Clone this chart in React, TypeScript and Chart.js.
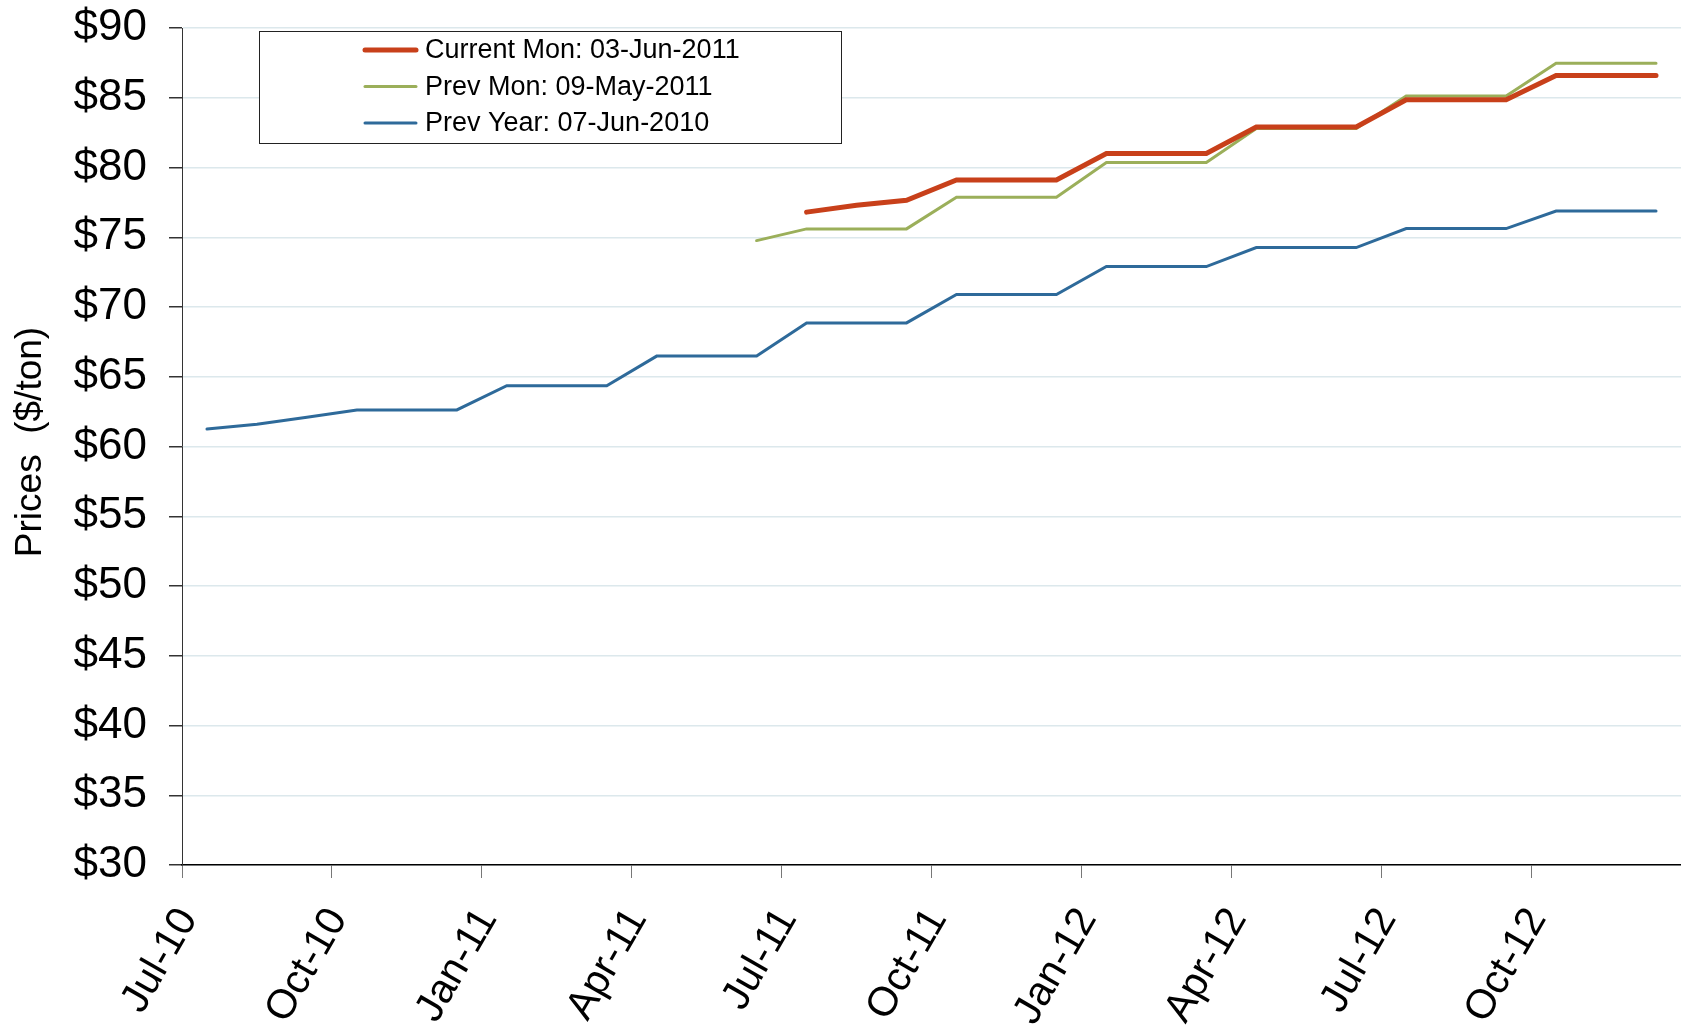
import React, { useEffect, useRef } from 'react';
import { Chart, registerables } from 'chart.js';
Chart.register(...registerables);

const months = [
  'Jul-10', 'Aug-10', 'Sep-10', 'Oct-10', 'Nov-10', 'Dec-10',
  'Jan-11', 'Feb-11', 'Mar-11', 'Apr-11', 'May-11', 'Jun-11',
  'Jul-11', 'Aug-11', 'Sep-11', 'Oct-11', 'Nov-11', 'Dec-11',
  'Jan-12', 'Feb-12', 'Mar-12', 'Apr-12', 'May-12', 'Jun-12',
  'Jul-12', 'Aug-12', 'Sep-12', 'Oct-12', 'Nov-12', 'Dec-12',
];
const tickLabels = ['Jul-10', 'Oct-10', 'Jan-11', 'Apr-11', 'Jul-11', 'Oct-11', 'Jan-12', 'Apr-12', 'Jul-12', 'Oct-12'];

const currentMon: (number | null)[] = [
  null, null, null, null, null, null, null, null, null, null, null, null,
  76.8, 77.3, 77.65, 79.1, 79.1, 79.1, 81.0, 81.0, 81.0, 82.9, 82.9, 82.9,
  84.85, 84.85, 84.85, 86.6, 86.6, 86.6,
];
const prevMon: (number | null)[] = [
  null, null, null, null, null, null, null, null, null, null, null, 74.76,
  75.6, 75.6, 75.6, 77.86, 77.86, 77.86, 80.36, 80.36, 80.36, 82.8, 82.8, 82.8,
  85.12, 85.12, 85.12, 87.48, 87.48, 87.48,
];
const prevYear: (number | null)[] = [
  61.25, 61.6, 62.1, 62.62, 62.62, 62.62, 64.36, 64.36, 64.36, 66.48, 66.48, 66.48,
  68.86, 68.86, 68.86, 70.9, 70.9, 70.9, 72.9, 72.9, 72.9, 74.26, 74.26, 74.26,
  75.62, 75.62, 75.62, 76.88, 76.88, 76.88,
];

const seriesNames = ['Current Mon: 03-Jun-2011', 'Prev Mon: 09-May-2011', 'Prev Year: 07-Jun-2010'];
const seriesColors = ['#C8401A', '#9BAF5A', '#2E6A9A'];
const seriesWidths = [5, 3, 3];
const yTitle = 'Prices  ($/ton)';

const FONT = "'Liberation Sans', Arial, sans-serif";

const toPoints = (arr: (number | null)[]) => arr.map((v, i) => ({ x: i + 0.5, y: v }));

const legendPlugin = {
  id: 'boxLegend',
  afterDraw(chart: any) {
    const ctx = chart.ctx as CanvasRenderingContext2D;
    ctx.save();
    ctx.fillStyle = '#ffffff';
    ctx.fillRect(259, 31, 582, 112);
    ctx.strokeStyle = '#222';
    ctx.lineWidth = 1;
    ctx.strokeRect(259.5, 31.5, 582, 112);
    chart.data.datasets.forEach((ds: any, i: number) => {
      const y = 50 + i * 36.5;
      ctx.beginPath();
      ctx.strokeStyle = ds.borderColor;
      ctx.lineWidth = ds.borderWidth;
      ctx.lineCap = 'round';
      ctx.moveTo(365, y);
      ctx.lineTo(416, y);
      ctx.stroke();
      ctx.fillStyle = '#000';
      ctx.font = `27px ${FONT}`;
      ctx.textBaseline = 'middle';
      ctx.textAlign = 'left';
      ctx.fillText(ds.label, 425, y + 1);
    });
    // y-axis title
    ctx.translate(31, 442);
    ctx.rotate(-Math.PI / 2);
    ctx.fillStyle = '#000';
    ctx.font = `37px ${FONT}`;
    ctx.textAlign = 'center';
    ctx.textBaseline = 'middle';
    ctx.fillText(yTitle, 0, 0);
    ctx.restore();
  },
};

export default function App() {
  const ref = useRef<HTMLCanvasElement | null>(null);
  useEffect(() => {
    document.body.style.margin = '0';
    const canvas = ref.current!;
    const series = [currentMon, prevMon, prevYear];
    const chart = new Chart(canvas, {
      type: 'line',
      data: {
        datasets: series.map((s, i) => ({
          label: seriesNames[i],
          data: toPoints(s) as any,
          borderColor: seriesColors[i],
          backgroundColor: seriesColors[i],
          borderWidth: seriesWidths[i],
          pointRadius: 0,
          tension: 0,
          spanGaps: false,
          borderCapStyle: 'round' as const,
        })),
      },
      options: {
        responsive: false,
        animation: false,
        layout: { padding: { top: 28, right: 0, left: 0, bottom: 0 } },
        plugins: { legend: { display: false }, tooltip: { enabled: false } },
        scales: {
          x: {
            type: 'linear',
            min: 0,
            max: months.length,
            afterBuildTicks: (scale: any) => {
              scale.ticks = tickLabels.map((_, i) => ({ value: i * 3 }));
            },
            afterFit: (scale: any) => {
              scale.height = 1026 - 865;
              scale.paddingLeft = 0;
              scale.paddingRight = 0;
            },
            ticks: {
              autoSkip: false,
              maxRotation: 60,
              minRotation: 60,
              padding: 22,
              labelOffset: 6,
              color: '#000',
              font: { family: FONT, size: 41 },
              callback: (v: any) => tickLabels[Math.round(Number(v) / 3)] ?? '',
            },
            grid: {
              drawOnChartArea: false,
              drawTicks: true,
              tickLength: 13,
              tickColor: '#777',
            },
            border: { color: '#000', width: 1.5 },
          },
          y: {
            min: 30,
            max: 90,
            afterFit: (scale: any) => {
              scale.width = 182;
              scale.paddingTop = 0;
              scale.paddingBottom = 0;
            },
            ticks: {
              stepSize: 5,
              padding: 22,
              color: '#000',
              font: { family: FONT, size: 44 },
              callback: (v: any) => '$' + v,
            },
            grid: {
              color: '#dce8ec',
              lineWidth: 1.5,
              tickColor: '#333',
              tickLength: 13,
            },
            border: { color: '#333', width: 1 },
          },
        },
      },
      plugins: [legendPlugin],
    });
    return () => chart.destroy();
  }, []);
  return (
    <div style={{ width: 1681, height: 1026 }}>
      <canvas ref={ref} width={1681} height={1026} style={{ display: 'block' }} />
    </div>
  );
}
